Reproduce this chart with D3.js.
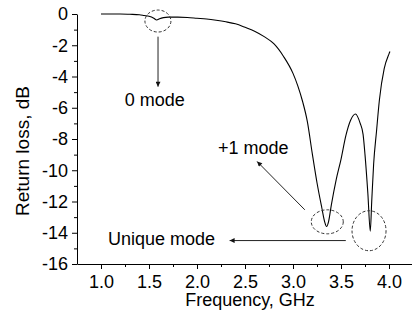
<!DOCTYPE html>
<html>
<head>
<meta charset="utf-8">
<script src="https://cdn.jsdelivr.net/npm/d3@7"></script>
<style>
  body { margin: 0; background: #fff; }
  text { font-family: Arial, "Liberation Sans", sans-serif; }
</style>
</head>
<body>
<script>
// measured return loss curve
var freq = [1.0, 1.1, 1.2, 1.3, 1.4, 1.45, 1.5, 1.55, 1.58, 1.61, 1.65, 1.7, 1.8, 1.9, 2.0,
  2.1, 2.2, 2.3, 2.4, 2.5, 2.6, 2.7, 2.8, 2.9, 3.0, 3.05, 3.1, 3.15, 3.2, 3.25, 3.3,
  3.33, 3.35, 3.37, 3.4, 3.45, 3.5, 3.55, 3.6, 3.65, 3.7, 3.73, 3.75, 3.78, 3.805,
  3.82, 3.84, 3.87, 3.9, 3.95, 4.0, 4.01];
var returnLoss = [0, 0, 0, -0.02, -0.05, -0.1, -0.15, -0.27, -0.38, -0.3, -0.23, -0.2, -0.2,
  -0.22, -0.27, -0.32, -0.4, -0.5, -0.63, -0.85, -1.1, -1.45, -1.9, -2.7, -3.8, -4.6,
  -5.6, -6.9, -8.9, -10.8, -12.4, -13.3, -13.6, -13.3, -12.2, -10.6, -9.3, -7.8, -6.8,
  -6.4, -7.0, -7.7, -9.0, -11.5, -13.9, -12.0, -9.6, -7.5, -5.5, -3.5, -2.55, -2.4];

var xTicks = [1.0, 1.5, 2.0, 2.5, 3.0, 3.5, 4.0];
var xMinor = [1.25, 1.75, 2.25, 2.75, 3.25, 3.75];
var yTicks = [0, -2, -4, -6, -8, -10, -12, -14, -16];
var yMinor = [-1, -3, -5, -7, -9, -11, -13, -15];

// annotations, in data units
var rings = [
  { x: 1.593, y: -0.45, rx: 13, ry: 11 },
  { x: 3.357, y: -13.3, rx: 16, ry: 12 },
  { x: 3.792, y: -13.87, rx: 17, ry: 20 }
];
var arrows = [
  { x1: 1.594, y1: -1.45, x2: 1.594, y2: -4.65 },
  { x1: 3.123, y1: -12.53, x2: 2.626, y2: -9.44 },
  { x1: 3.55, y1: -14.5, x2: 2.34, y2: -14.5 }
];
var labels = [
  { x: 1.56, y: -5.9, text: "0 mode", anchor: "middle" },
  { x: 2.585, y: -8.97, text: "+1 mode", anchor: "middle" },
  { x: 1.073, y: -14.77, text: "Unique mode", anchor: "start" }
];

var svgWidth = 412, svgHeight = 318;
var margin = { top: 14, right: 0, bottom: 54, left: 77 };
var width = 336;
var height = svgHeight - margin.top - margin.bottom;

var svg = d3.select("body").append("svg")
  .attr("width", svgWidth)
  .attr("height", svgHeight);

// arrow head
svg.append("defs").append("marker")
  .attr("id", "head")
  .attr("viewBox", "0 0 10 10")
  .attr("refX", 10).attr("refY", 5)
  .attr("markerWidth", 7).attr("markerHeight", 5)
  .attr("markerUnits", "userSpaceOnUse")
  .attr("orient", "auto")
  .append("path")
  .attr("d", "M0,0L10,5L0,10Z")
  .attr("fill", "#111");

var g = svg.append("g")
  .attr("transform", `translate(${margin.left}, ${margin.top})`);

var x = d3.scaleLinear().domain([0.75, 4.25]).range([0, width]);
var y = d3.scaleLinear().domain([-16, 0]).range([height, 0]);

// axes, majors then minors
g.append("g")
  .attr("transform", `translate(0, ${height})`)
  .call(d3.axisBottom(x).tickValues(xTicks).tickFormat(d3.format(".1f"))
    .tickSizeInner(5).tickSizeOuter(0).tickPadding(6));
g.append("g")
  .attr("transform", `translate(0, ${height})`)
  .call(d3.axisBottom(x).tickValues(xMinor).tickFormat("").tickSizeInner(3).tickSizeOuter(0))
  .select(".domain").remove();

g.append("g")
  .call(d3.axisLeft(y).tickValues(yTicks).tickFormat(d => String(d))
    .tickSizeInner(5).tickSizeOuter(0).tickPadding(4));
g.append("g")
  .call(d3.axisLeft(y).tickValues(yMinor).tickFormat("").tickSizeInner(3).tickSizeOuter(0))
  .select(".domain").remove();

g.selectAll(".tick text")
  .attr("font-size", 18)
  .attr("font-family", "Arial, 'Liberation Sans', sans-serif")
  .attr("fill", "#000");
g.selectAll(".domain, .tick line").attr("stroke", "#000");

// axis titles
g.append("text")
  .attr("x", (x(1.0) + x(4.0)) / 2 + 5)
  .attr("y", height + 42)
  .attr("text-anchor", "middle")
  .attr("font-size", 18)
  .text("Frequency, GHz");

g.append("text")
  .attr("transform", "rotate(-90)")
  .attr("x", -(height / 2) - 12)
  .attr("y", -margin.left + 29)
  .attr("text-anchor", "middle")
  .attr("font-size", 19)
  .text("Return loss, dB");

// curve
var line = d3.line()
  .x((d, i) => x(freq[i]))
  .y(d => y(d))
  .curve(d3.curveMonotoneX);

g.append("path")
  .datum(returnLoss)
  .attr("d", line)
  .attr("fill", "none")
  .attr("stroke", "#000")
  .attr("stroke-width", 1.1);

// dashed rings, arrows and mode labels
g.selectAll(".ring")
  .data(rings)
  .enter()
  .append("ellipse")
  .attr("cx", d => x(d.x))
  .attr("cy", d => y(d.y))
  .attr("rx", d => d.rx)
  .attr("ry", d => d.ry)
  .attr("fill", "none")
  .attr("stroke", "#333")
  .attr("stroke-dasharray", "3,2");

g.selectAll(".arrow")
  .data(arrows)
  .enter()
  .append("line")
  .attr("x1", d => x(d.x1))
  .attr("y1", d => y(d.y1))
  .attr("x2", d => x(d.x2))
  .attr("y2", d => y(d.y2))
  .attr("stroke", "#222")
  .attr("marker-end", "url(#head)");

g.selectAll(".note")
  .data(labels)
  .enter()
  .append("text")
  .attr("x", d => x(d.x))
  .attr("y", d => y(d.y))
  .attr("text-anchor", d => d.anchor)
  .attr("font-size", 18)
  .text(d => d.text);
</script>
</body>
</html>
